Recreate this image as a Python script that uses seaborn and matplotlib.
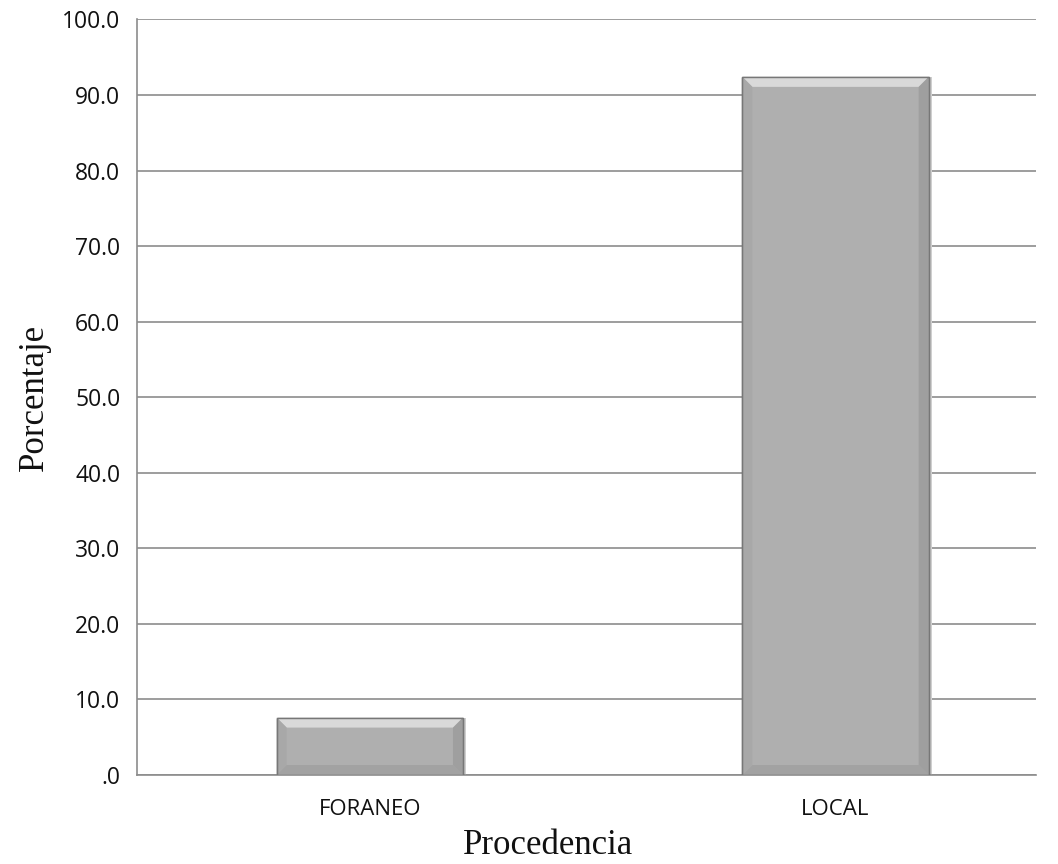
import matplotlib
matplotlib.use("Agg")
import matplotlib.pyplot as plt
import seaborn as sns
import pandas as pd
from matplotlib.patches import Polygon, Rectangle
from matplotlib.ticker import FixedLocator

categorias = ["FORANEO", "LOCAL"]
porcentajes = [7.6, 92.4]
yticks = [0, 10, 20, 30, 40, 50, 60, 70, 80, 90, 100]
ytick_labels = [".0", "10.0", "20.0", "30.0", "40.0", "50.0", "60.0", "70.0", "80.0", "90.0", "100.0"]

df = pd.DataFrame({"Procedencia": categorias, "Porcentaje": porcentajes})

sns.set_theme(style="white")
plt.rcParams["font.family"] = ["Open Sans", "DejaVu Sans"]

fig = plt.figure(figsize=(10.58, 8.64), dpi=100)
ax = fig.add_axes([0.1295, 0.103, 0.8495, 0.8745])

sns.barplot(data=df, x="Procedencia", y="Porcentaje", ax=ax, color="#afafaf",
            width=0.4, saturation=1, edgecolor="#6f6f6f", linewidth=1.0, zorder=3)

ax.set_xlim(-0.5, 1.43)
ax.set_ylim(0, 100)
ax.yaxis.set_major_locator(FixedLocator(yticks))
ax.set_yticklabels(ytick_labels, fontsize=16.5, color="#111111")
ax.tick_params(axis="y", length=7, width=1.2, color="#8c8c8c", pad=5)
ax.tick_params(axis="x", length=0, labelsize=16, labelcolor="#111111", pad=17)

ax.grid(axis="y", color="#8c8c8c", linewidth=1.2, zorder=0)
ax.grid(axis="x", visible=False)
for side in ("top", "right"):
    ax.spines[side].set_visible(False)
for side in ("left", "bottom"):
    ax.spines[side].set_color("#8c8c8c")
    ax.spines[side].set_linewidth(1.2)

ax.set_xlabel("Procedencia", family="Liberation Serif", fontsize=25, color="#111111")
ax.set_ylabel("Porcentaje", family="Liberation Serif", fontsize=25, labelpad=8,
              color="#111111")
ax.xaxis.set_label_coords(0.457, -0.071)

# bevel shading on each bar, derived from the drawn patch geometry
to_data = ax.transData.inverted()
for patch in ax.patches[:len(categorias)]:
    x0, y0 = patch.get_x(), patch.get_y()
    w, h = patch.get_width(), patch.get_height()
    x1, y1 = x0 + w, y0 + h
    px = ax.transData.transform((x0, y0))
    bx = to_data.transform(px + [10, 0])[0] - x0
    by = to_data.transform(px + [0, 10])[1] - y0
    by = min(by, h / 2.2)
    bx = min(bx, w / 2.2)
    facets = [
        ([(x0, y1), (x1, y1), (x1 - bx, y1 - by), (x0 + bx, y1 - by)], "#dedede", 0.9),
        ([(x0, y0), (x1, y0), (x1 - bx, y0 + by), (x0 + bx, y0 + by)], "#9a9a9a", 0.6),
        ([(x0, y0), (x0, y1), (x0 + bx, y1 - by), (x0 + bx, y0 + by)], "#a4a4a4", 0.6),
        ([(x1, y0), (x1, y1), (x1 - bx, y1 - by), (x1 - bx, y0 + by)], "#959595", 0.6),
    ]
    for pts, c, a in facets:
        ax.add_patch(Polygon(pts, closed=True, facecolor=c, edgecolor="none",
                             alpha=a, zorder=4))
    # soft shadow behind the bar
    sx = to_data.transform(px + [3, 0])[0] - x0
    ax.add_patch(Rectangle((x0 + sx, y0), w, h, facecolor="#cfcfcf",
                           edgecolor="none", zorder=2.5))
    ax.add_patch(Rectangle((x0, y0), w, h, facecolor="none", edgecolor="#777777",
                           linewidth=1.0, zorder=5))

fig.savefig("out.png", dpi=100)
